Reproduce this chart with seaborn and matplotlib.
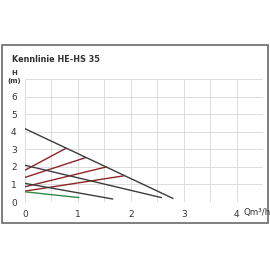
import numpy as np
import pandas as pd
import seaborn as sns
import matplotlib.pyplot as plt
from matplotlib.patches import Rectangle

# pump curves (Q in m3/h, H in m)
max_q = [0.0, 2.8]
max_h = [4.17, 0.2]
mid_q = [0.0, 2.58]
mid_h = [2.09, 0.25]
low_q = [0.0, 1.66]
low_h = [1.06, 0.17]
min_q = [0.0, 1.02]
min_h = [0.58, 0.25]

# system curves, ending on the max curve
sys_q = [[0.0, 0.77], [0.0, 1.15], [0.0, 1.53], [0.0, 1.87]]
sys_h = [[1.81, 3.05], [1.40, 2.53], [0.87, 1.99], [0.62, 1.49]]

x_ticks = [0, 1, 2, 3, 4]
y_ticks = [0, 1, 2, 3, 4, 5, 6]

sns.set_style('white')
plt.rcParams['font.family'] = ['DejaVu Sans']

fig = plt.figure(figsize=(2.7, 2.7), dpi=100)
ax = fig.add_axes([25/270, 1-202/270, 238/270, 123/270])

dark = '#3c3c3c'
red = '#8e2424'
green = '#2f8a45'

for q, h in zip(sys_q, sys_h):
    sns.lineplot(x=q, y=h, color=red, lw=1.0, sort=False, ax=ax)
sns.lineplot(x=max_q, y=max_h, color=dark, lw=1.0, sort=False, ax=ax)
sns.lineplot(x=mid_q, y=mid_h, color=dark, lw=1.0, sort=False, ax=ax)
sns.lineplot(x=low_q, y=low_h, color=dark, lw=1.0, sort=False, ax=ax)
sns.lineplot(x=min_q, y=min_h, color=green, lw=1.0, sort=False, ax=ax)

ax.set_xlim(0, 4.5)
ax.set_ylim(0, 7)
ax.set_xticks(np.arange(0, 4.51, 0.5), minor=False)
ax.set_yticks(np.arange(0, 7.01, 1))
ax.grid(True, color='#dcdcdc', lw=0.7)
ax.set_xticklabels([str(int(v)) if v in x_ticks else '' for v in np.arange(0, 4.51, 0.5)])
ax.set_yticklabels([str(int(v)) if v in y_ticks else '' for v in np.arange(0, 7.01, 1)])
ax.tick_params(length=0, labelsize=6.5, colors='#333333', pad=6)
for s in ax.spines.values():
    s.set_visible(False)
ax.set_xlabel('')
ax.set_ylabel('')

fig.text(257/270, 1-212/270, 'Qm³/h', ha='center', va='center', fontsize=6.3, color='#333333')
fig.text(14/270, 1-73/270, 'H', ha='center', va='center', fontsize=5, color='#333333', weight='bold')
fig.text(14/270, 1-81.5/270, '(m)', ha='center', va='center', fontsize=5, color='#333333', weight='bold')
fig.text(12/270, 1-60/270, 'Kennlinie HE-HS 35', ha='left', va='center', fontsize=6.5,
         color='#333333', weight='bold', stretch='condensed')

fig.patches.append(Rectangle((1.5/270, 1-223/270), 266/270, 178/270, transform=fig.transFigure,
                             fill=False, edgecolor='#6a6a6a', lw=1.2))

fig.savefig('out.png', dpi=100)
